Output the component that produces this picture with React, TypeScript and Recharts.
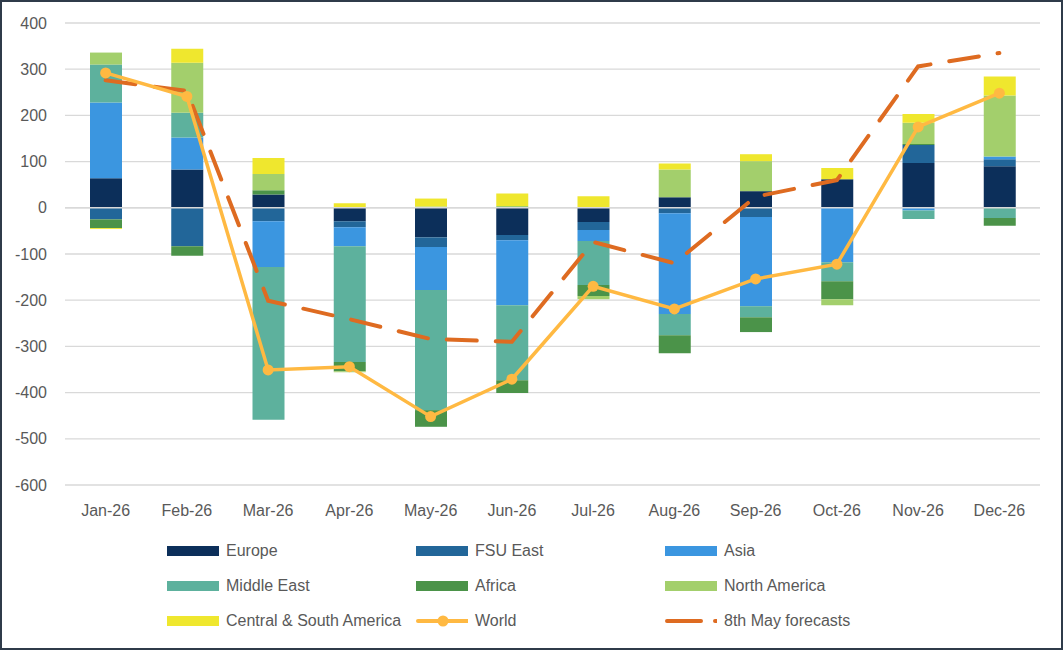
import React from "react";
import {
  ComposedChart,
  Bar,
  Line,
  XAxis,
  YAxis,
  CartesianGrid,
  ReferenceLine,
  Legend,
} from "recharts";

// Monthly changes by region, with the world total and the earlier forecast
const months = [
  "Jan-26", "Feb-26", "Mar-26", "Apr-26", "May-26", "Jun-26",
  "Jul-26", "Aug-26", "Sep-26", "Oct-26", "Nov-26", "Dec-26",
];
const europe = [64, 83, 29, -29, -64, -59, -31, 23, 36, 62, 97, 90];
const fsuEast = [-25, -83, -29, -13, -21, -11, -17, -12, -20, 0, 39, 15];
const asia = [164, 69, -99, -41, -93, -141, -24, -218, -193, -118, -6, 6];
const middleEast = [82, 54, -331, -251, -260, -162, -95, -46, -24, -41, -18, -22];
const africa = [-19, -21, 9, -20, -36, -28, -24, -39, -32, -39, 2, -17];
const northAmerica = [26, 108, 35, -2, 3, 4, -7, 60, 65, -13, 46, 132];
const centralSouthAmerica = [-2, 30, 35, 10, 17, 27, 25, 13, 15, 24, 19, 41];
const world = [292, 241, -351, -344, -452, -371, -170, -219, -154, -122, 175, 248];
const mayForecast = [276, 253, -201, -241, -284, -290, -74, -120, 24, 60, 306, 335];
const yTicks = [400, 300, 200, 100, 0, -100, -200, -300, -400, -500, -600];

const data = months.map((m, i) => ({
  month: m,
  europe: europe[i],
  fsuEast: fsuEast[i],
  asia: asia[i],
  middleEast: middleEast[i],
  africa: africa[i],
  northAmerica: northAmerica[i],
  csa: centralSouthAmerica[i],
  world: world[i],
  forecast: mayForecast[i],
}));

const barSeries = [
  { key: "europe", name: "Europe", color: "#0C2F5A" },
  { key: "fsuEast", name: "FSU East", color: "#226699" },
  { key: "asia", name: "Asia", color: "#3B96E0" },
  { key: "middleEast", name: "Middle East", color: "#5DB19D" },
  { key: "africa", name: "Africa", color: "#4B9349" },
  { key: "northAmerica", name: "North America", color: "#A3CF6C" },
  { key: "csa", name: "Central & South America", color: "#EFE72E" },
];

const WORLD_COLOR = "#FFB942";
const FORECAST_COLOR = "#DE6B21";
const TEXT_COLOR = "#595959";
const FONT = '"Liberation Sans", Arial, sans-serif';

type LegendItem = { name: string; kind: "bar" | "world" | "forecast"; color: string };

const legendItems: LegendItem[] = [
  ...barSeries.map((s) => ({ name: s.name, kind: "bar" as const, color: s.color })),
  { name: "World", kind: "world", color: WORLD_COLOR },
  { name: "8th May forecasts", kind: "forecast", color: FORECAST_COLOR },
];

function Swatch({ item }: { item: LegendItem }) {
  if (item.kind === "bar") {
    return <div style={{ width: 52, height: 10, background: item.color }} />;
  }
  if (item.kind === "world") {
    return (
      <svg width={54} height={14}>
        <line x1={2} y1={7} x2={52} y2={7} stroke={item.color} strokeWidth={4} strokeLinecap="round" />
        <circle cx={27} cy={7} r={5.5} fill={item.color} />
      </svg>
    );
  }
  return (
    <svg width={54} height={14}>
      <line
        x1={2}
        y1={7}
        x2={52}
        y2={7}
        stroke={item.color}
        strokeWidth={4}
        strokeLinecap="round"
        strokeDasharray="34 14"
      />
    </svg>
  );
}

function LegendGrid() {
  return (
    <div
      style={{
        height: 113,
        boxSizing: "border-box",
        paddingTop: 8,
        paddingLeft: 167,
        display: "grid",
        gridTemplateColumns: "249px 249px 249px",
        gridAutoRows: "35px",
        fontFamily: FONT,
        fontSize: 16,
        color: TEXT_COLOR,
      }}
    >
      {legendItems.map((item) => (
        <div key={item.name} style={{ display: "flex", alignItems: "center", whiteSpace: "nowrap" }}>
          <div style={{ width: 52, display: "flex", alignItems: "center", justifyContent: "center" }}>
            <Swatch item={item} />
          </div>
          <span style={{ marginLeft: 7 }}>{item.name}</span>
        </div>
      ))}
    </div>
  );
}

export default function App() {
  return (
    <div style={{ position: "relative", width: 1063, height: 650, background: "#fff" }}>
      <style>{"body{margin:0}"}</style>
      <ComposedChart
        width={1063}
        height={650}
        data={data}
        stackOffset="sign"
        margin={{ top: 23, right: 23, bottom: 12, left: 0 }}
        style={{ fontFamily: FONT }}
      >
        <CartesianGrid vertical={false} stroke="#D9D9D9" strokeWidth={1.3} />
        <XAxis
          dataKey="month"
          axisLine={false}
          tickLine={false}
          height={40}
          tickMargin={14}
          tick={{ fill: TEXT_COLOR, fontSize: 16 }}
          interval={0}
        />
        <YAxis
          width={65}
          domain={[-600, 400]}
          ticks={yTicks}
          axisLine={false}
          tickLine={false}
          tickMargin={12}
          tick={{ fill: TEXT_COLOR, fontSize: 16 }}
        />
        <ReferenceLine y={0} stroke="#D9D9D9" strokeWidth={1.5} />
        {barSeries.map((s) => (
          <Bar
            key={s.key}
            dataKey={s.key}
            name={s.name}
            stackId="regions"
            fill={s.color}
            barSize={32}
            isAnimationActive={false}
          />
        ))}
        <Line
          dataKey="forecast"
          name="8th May forecasts"
          stroke={FORECAST_COLOR}
          strokeWidth={4}
          strokeDasharray="30 19"
          strokeLinecap="round"
          dot={false}
          activeDot={false}
          isAnimationActive={false}
        />
        <Line
          dataKey="world"
          name="World"
          stroke={WORLD_COLOR}
          strokeWidth={3.5}
          dot={{ r: 5.5, fill: WORLD_COLOR, stroke: WORLD_COLOR, strokeWidth: 0 }}
          activeDot={false}
          isAnimationActive={false}
        />
        <Legend
          verticalAlign="bottom"
          content={() => <LegendGrid />}
          wrapperStyle={{ left: 0, width: 1063 }}
        />
      </ComposedChart>
      <div
        style={{
          position: "absolute",
          inset: 0,
          border: "2px solid #2F3B4A",
          boxSizing: "border-box",
          pointerEvents: "none",
        }}
      />
    </div>
  );
}
